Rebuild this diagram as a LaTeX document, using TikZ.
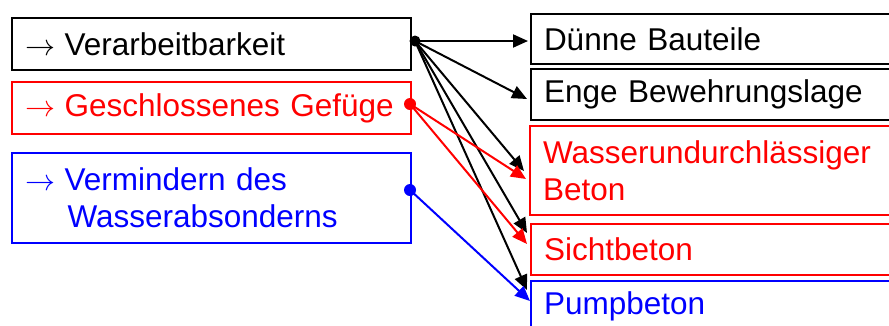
\documentclass[tikz,border=0pt]{standalone}
\usepackage{graphicx}
\usepackage{fontspec}
\setmainfont{Liberation Sans}
\usetikzlibrary{arrows.meta,calc}
\newcommand\myarr{\resizebox{30pt}{!}{$\rightarrow$}\hspace{9.5pt}}
\begin{document}
\begin{tikzpicture}[x=1pt,y=-1pt,
  box/.style={draw,line width=2pt,anchor=north west,inner xsep=13pt,inner ysep=0pt,align=left,
    font=\fontsize{31.5}{37}\selectfont},
  lbox/.style={box,minimum width=399pt,text width=373pt},
  rbox/.style={box,minimum width=420pt,text width=394pt},
  conn/.style={line width=2pt,-{Triangle[length=15pt,width=13pt]}},
  dot/.style={circle,fill,inner sep=0pt,minimum size=11pt}]
\useasboundingbox (0,0) rectangle (889,325);
\clip (0,0) rectangle (889,325);
% left boxes
\node[lbox,minimum height=52pt] (verarb) at (11,17) {\myarr Verarbeitbarkeit};
\node[lbox,minimum height=52pt,draw=red,text=red] (gefuege) at (11,81) {\myarr Geschlossenes Gefüge};
\node[lbox,minimum height=90pt,draw=blue,text=blue] (wasserab) at (11,152) {\myarr Vermindern des\\\phantom{\myarr}\hspace{3pt}Wasserabsonderns};
% right boxes
\node[rbox,minimum height=50pt] (duenne) at (530,13) {Dünne Bauteile};
\node[rbox,minimum height=51pt] (enge) at (530,68) {Enge Bewehrungslage};
\node[rbox,minimum height=89pt,draw=red,text=red] (wu) at (529,125) {Wasserundurchlässiger\\Beton};
\node[rbox,minimum height=51pt,draw=red,text=red] (sicht) at (530,223) {Sichtbeton};
\node[rbox,minimum height=51pt,draw=blue,text=blue] (pump) at (530,280) {Pumpbeton};
% dots
\node[dot] (bdot) at (415,41) {};
\node[dot,red,minimum size=12pt] (rdot) at (410,104) {};
\node[dot,blue,minimum size=12pt] (bldot) at (410,190) {};
% targets
\coordinate (tDue) at ($(duenne.north west)+(-2,28)$);
\coordinate (tEng) at ($(enge.north west)+(-3,31)$);
\coordinate (tWuB) at ($(wu.north west)+(-5,46)$);
\coordinate (tWuR) at ($(wu.north west)+(-3,54)$);
\coordinate (tSiB) at ($(sicht.north west)+(-3,10)$);
\coordinate (tSiR) at ($(sicht.north west)+(-3,21)$);
\coordinate (tPuB) at ($(pump.north west)+(-3,10)$);
\coordinate (tPuBl) at ($(pump.north west)+(0,21)$);
% connectors
\draw[conn] (bdot.center) -- (tDue);
\draw[conn] (bdot.center) -- (tEng);
\draw[conn] (bdot.center) -- (tWuB);
\draw[conn] (bdot.center) -- (tSiB);
\draw[conn] (bdot.center) -- (tPuB);
\draw[conn,red] (rdot.center) -- (tWuR);
\draw[conn,red] (rdot.center) -- (tSiR);
\draw[conn,blue] (bldot.center) -- (tPuBl);
\end{tikzpicture}
\end{document}
